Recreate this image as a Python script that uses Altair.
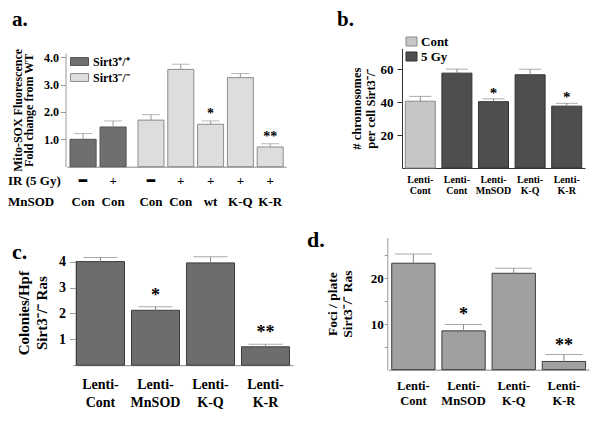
import altair as alt
import pandas as pd

# ---------------- data ----------------
# panel a
a_ir = ["━", "+", "━", "+", "+", "+", "+"]
a_mnsod = ["Con", "Con", "Con", "Con", "wt", "K-Q", "K-R"]
a_geno = ["Sirt3⁺/⁺", "Sirt3⁺/⁺", "Sirt3⁻/⁻", "Sirt3⁻/⁻", "Sirt3⁻/⁻", "Sirt3⁻/⁻", "Sirt3⁻/⁻"]
a_geno_order = ["Sirt3⁺/⁺", "Sirt3⁻/⁻"]
a_mean = [1.0, 1.45, 1.7, 3.55, 1.55, 3.25, 0.72]
a_err = [1.21, 1.67, 1.9, 3.74, 1.67, 3.4, 0.84]
a_sig = ["", "", "", "", "*", "", "**"]

# panel b
b_cat = ["Lenti-|Cont", "Lenti-|Cont", "Lenti-|MnSOD", "Lenti-|K-Q", "Lenti-|K-R"]
b_dose = ["Cont", "5 Gy", "5 Gy", "5 Gy", "5 Gy"]
b_dose_order = ["Cont", "5 Gy"]
b_mean = [40.5, 57.5, 40.2, 56.5, 37.5]
b_err = [43.4, 59.9, 41.9, 59.9, 39.2]
b_sig = ["", "", "*", "", "*"]

# panels c and d
lenti_cat = ["Lenti-|Cont", "Lenti-|MnSOD", "Lenti-|K-Q", "Lenti-|K-R"]
c_mean = [4.0, 2.12, 3.95, 0.71]
c_err = [4.16, 2.26, 4.19, 0.81]
c_sig = ["", "*", "", "**"]
d_mean = [23.3, 8.5, 21.1, 1.8]
d_err = [25.3, 9.9, 22.2, 3.3]
d_sig = ["", "*", "", "**"]

# ---------------- helpers ----------------
FONT = "Liberation Serif"
W, H = 584, 405


def V(p):
    """page pixel -> view pixel (page has an 8px margin)"""
    return p - 8


LABEL_EXPR = "slice(split(datum.label, '|'), 1)"


def frame(cats, mean, err, sig, start=0, **extra):
    df = pd.DataFrame({
        "key": [f"{i + start}|{c}" for i, c in enumerate(cats)],
        "mean": mean, "err": err, "sig": sig,
    })
    for k, v in extra.items():
        df[k] = v
    return df


def x_axis(base_page, size, lh, pad, dom="#888"):
    return alt.Axis(orient="bottom", offset=-(H - V(base_page)), title=None,
                    ticks=False, labelAngle=0, labelExpr=LABEL_EXPR,
                    labelFont=FONT, labelFontSize=size, labelFontWeight="bold",
                    labelColor="black", labelLineHeight=lh, labelPadding=pad,
                    labelOverlap=False, domainColor=dom, grid=False)


def y_axis(axis_page, values, fmt, size, title, tsize, tline, tpad,
           tick=5, lpad=2, dom="#999", label_expr=None):
    kw = dict(orient="left", offset=-V(axis_page), values=values, format=fmt,
              title=title, labelFont=FONT, labelFontSize=size,
              labelFontWeight="bold", labelColor="black", tickSize=tick,
              tickColor=dom, domainColor=dom, labelPadding=lpad,
              titleFont=FONT, titleFontSize=tsize, titleFontWeight="bold",
              titleColor="black", titleLineHeight=tline, titlePadding=tpad,
              grid=False)
    if label_expr:
        kw["labelExpr"] = label_expr
    return alt.Axis(**kw)


def bar_layer(df, X, yscale, yaxis, cap, errc, star_size, star_dy,
              fill_enc=None, stroke_enc=None, bar_kw=None):
    Y = alt.Y("mean:Q", scale=yscale, axis=yaxis)
    Yerr = alt.Y("err:Q", scale=yscale, axis=yaxis)
    base = alt.Chart(df)
    enc = dict(x=X, y=Y)
    if fill_enc is not None:
        enc["fill"] = fill_enc
    if stroke_enc is not None:
        enc["stroke"] = stroke_enc
    bars = base.mark_bar(strokeWidth=1, **(bar_kw or {})).encode(**enc)
    rule = base.mark_rule(color=errc, strokeWidth=1).encode(x=X, y=Y, y2=alt.Y2("err:Q"))
    capm = base.mark_tick(color=errc, size=cap, thickness=1, orient="horizontal").encode(x=X, y=Yerr)
    stars = base.mark_text(font=FONT, fontSize=star_size, fontWeight="bold", color="black",
                           baseline="alphabetic", dy=star_dy).encode(x=X, y=Yerr, text="sig:N")
    return alt.layer(bars, rule, capm, stars)


def label(text, x, y, size, align="left", baseline="alphabetic"):
    return alt.Chart(pd.DataFrame({"t": [text]})).mark_text(
        font=FONT, fontSize=size, fontWeight="bold", align=align,
        baseline=baseline, color="black"
    ).encode(x=alt.value(V(x)), y=alt.value(V(y)), text="t:N")


# ---------------- panel a ----------------
a_cats = [f"{i}|{m}" for i, m in zip(a_ir, a_mnsod)]
df_a = frame(a_cats, a_mean, a_err, a_sig, geno=a_geno)
df_a_wt = df_a.iloc[:2]
df_a_ko = df_a.iloc[2:]

a_base = 166.7
a_ppu = 27.4
a_yscale = alt.Scale(domain=[0, 4.15], range=[V(a_base), V(a_base) - 4.15 * a_ppu], nice=False)
a_yaxis = y_axis(65.5, [1, 2, 3, 4], ".1f", 12,
                 ["Mito-SOX Fluorescence", "Fold change from WT"], 12, 11, 8)
a_fill = alt.Fill("geno:N", scale=alt.Scale(domain=a_geno_order, range=["#6f6f6f", "#dddddd"]),
                  legend=alt.Legend(title=None, orient="none", legendX=V(70), legendY=V(52),
                                    symbolType="M-1,-0.44H1V0.44H-1Z", symbolSize=324,
                                    symbolStrokeColor="#777", symbolStrokeWidth=1,
                                    labelFont=FONT, labelFontSize=12, labelFontWeight="bold",
                                    labelColor="black", labelOffset=4, rowPadding=0,
                                    padding=0, offset=0))
a_stroke = alt.Stroke("geno:N", scale=alt.Scale(domain=a_geno_order, range=["#555555", "#8c8c8c"]),
                      legend=None)
a_xaxis = x_axis(a_base, 13, 21, 8)
X_wt = alt.X("key:N", sort=None, axis=a_xaxis,
             scale=alt.Scale(range=[V(67), V(132)], paddingInner=0.13, paddingOuter=0.148, align=0.34))
X_ko = alt.X("key:N", sort=None, axis=a_xaxis,
             scale=alt.Scale(range=[V(132), V(286)], paddingInner=0.128, paddingOuter=0.148, align=0.68))
panel_a = alt.layer(
    bar_layer(df_a_wt, X_wt, a_yscale, a_yaxis, 18, "#999", 14, -3, a_fill, a_stroke),
    bar_layer(df_a_ko, X_ko, a_yscale, a_yaxis, 18, "#999", 14, -3, a_fill, a_stroke),
).resolve_scale(x="independent")

# ---------------- panel b ----------------
df_b = frame(b_cat, b_mean, b_err, b_sig, dose=b_dose)
b_base = 168
b_ppu = 1.65
b_yscale = alt.Scale(domain=[0, 72.5], range=[V(b_base), V(b_base) - 72.5 * b_ppu], nice=False)
b_yaxis = y_axis(402, [20, 40, 60], "d", 13, ["# chromosomes", "per cell Sirt3⁻/⁻"], 12.5, 14, 3,
                 tick=5, lpad=4, dom="#333")
b_fill = alt.Fill("dose:N", scale=alt.Scale(domain=b_dose_order, range=["#c6c6c6", "#4e4e4e"]),
                  legend=alt.Legend(title=None, orient="none", legendX=V(405), legendY=V(35),
                                    symbolType="M-1,-0.82H1V0.82H-1Z", symbolSize=121,
                                    symbolStrokeColor="#666", symbolStrokeWidth=1,
                                    labelFont=FONT, labelFontSize=13, labelFontWeight="bold",
                                    labelColor="black", labelOffset=3, rowPadding=0,
                                    padding=0, offset=0))
b_stroke = alt.Stroke("dose:N", scale=alt.Scale(domain=b_dose_order, range=["#8a8a8a", "#333333"]),
                      legend=None)
X_b = alt.X("key:N", sort=None, axis=x_axis(b_base, 10, 11, 6, dom="#333"),
            scale=alt.Scale(range=[V(402), V(585)], paddingInner=0.18, paddingOuter=0.09))
panel_b = bar_layer(df_b, X_b, b_yscale, b_yaxis, 22, "#888", 15, -1, b_fill, b_stroke)

# ---------------- panel c ----------------
df_c = frame(lenti_cat, c_mean, c_err, c_sig)
c_base = 365.2
c_ppu = 25.9
c_yscale = alt.Scale(domain=[0, 4.06], range=[V(c_base), V(c_base) - 4.06 * c_ppu], nice=False)
c_yaxis = y_axis(75.5, [1, 2, 3, 4], "d", 14, ["Colonies/Hpf", "Sirt3⁻/⁻ Ras"], 15, 18, 9,
                 tick=6, lpad=4)
X_c = alt.X("key:N", sort=None, axis=x_axis(c_base, 14, 18, 12),
            scale=alt.Scale(range=[V(73), V(293)], paddingInner=0.127, paddingOuter=0.0635))
panel_c = bar_layer(df_c, X_c, c_yscale, c_yaxis, 34, "#888", 18, -6,
                    bar_kw=dict(fill="#6d6d6d", stroke="#3c3c3c"))

# ---------------- panel d ----------------
df_d = frame(lenti_cat, d_mean, d_err, d_sig)
d_base = 369.7
d_ppu = 4.57
d_yscale = alt.Scale(domain=[0, 28.9], range=[V(d_base), V(d_base) - 28.9 * d_ppu], nice=False)
d_yaxis = y_axis(387.3, [5, 10, 15, 20, 25], "d", 13, ["Foci / plate", "Sirt3⁻/⁻ Ras"], 13.5, 15, 16,
                 tick=3, lpad=1, label_expr="datum.value % 10 == 0 ? datum.label : ''")
X_d = alt.X("key:N", sort=None, axis=x_axis(d_base, 12.5, 15, 10),
            scale=alt.Scale(range=[V(388.3), V(589)], paddingInner=0.137, paddingOuter=0.0685))
panel_d = bar_layer(df_d, X_d, d_yscale, d_yaxis, 37, "#888", 18, -4,
                    bar_kw=dict(fill="#a0a0a0", stroke="#3c3c3c"))

# ---------------- annotations ----------------
notes = [
    label("a.", 12, 26, 21),
    label("b.", 337, 26, 21),
    label("c.", 12, 259, 22),
    label("d.", 307, 247, 22),
    label("IR (5 Gy)", 8, 181, 13, baseline="middle"),
    label("MnSOD", 8, 202, 13, baseline="middle"),
]

chart = alt.layer(panel_a, panel_b, panel_c, panel_d, *notes).resolve_scale(
    x="independent", y="independent", fill="independent", stroke="independent"
).resolve_legend(fill="independent", stroke="independent").properties(
    width=W, height=H, autosize=alt.AutoSizeParams(type="none"), padding=0
).configure_view(stroke=None)

chart.save("out.html", embed_options={"renderer": "svg", "actions": False})
